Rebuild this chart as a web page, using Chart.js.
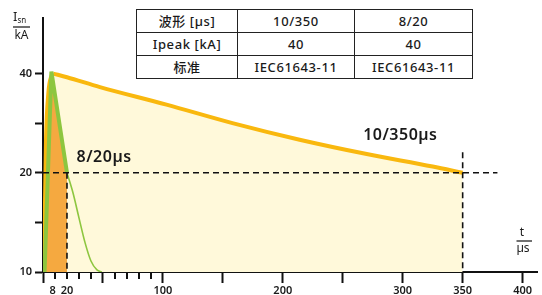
<!DOCTYPE html>
<html>
<head>
<meta charset="utf-8">
<script src="https://cdn.jsdelivr.net/npm/chart.js@4.4.0/dist/chart.umd.min.js"></script>
<style>
    html, body { margin: 0; padding: 0; background: #fff; }
    .wrap { position: relative; width: 542px; height: 295px; }
    canvas { position: absolute; left: 0; top: 0; }
    table.spec {
        position: absolute;
        left: 136px;
        top: 9px;
        width: 336px;
        border-collapse: collapse;
        table-layout: fixed;
        background: #fff;
        font-family: 'Noto Sans', 'Noto Sans CJK SC', sans-serif;
        font-size: 13px;
        font-weight: 500;
        letter-spacing: 0.6px;
        color: #1a1a1a;
    }
    table.spec td {
        border: 1.5px solid #222;
        height: 22px;
        padding: 0;
        text-align: center;
        line-height: 20px;
    }
</style>
</head>
<body>
<div class="wrap">
    <canvas id="chart" width="542" height="295"></canvas>
    <table class="spec">
        <colgroup><col style="width:101px"><col style="width:117px"><col style="width:118px"></colgroup>
        <tr><td>波形 [µs]</td><td>10/350</td><td>8/20</td></tr>
        <tr><td>Ipeak [kA]</td><td>40</td><td>40</td></tr>
        <tr><td>标准</td><td>IEC61643-11</td><td>IEC61643-11</td></tr>
    </table>
</div>
<script>
// 10/350 µs wave (t in µs, I in kA): front and tail
const t10350Front = [0.8, 2.5, 4.5, 7, 8.5];
const i10350Front = [10, 25, 35, 39.3, 40];
const t10350Tail = [8.5, 20, 47.5, 103, 158, 214, 270, 325, 350];
const i10350Tail = [40, 39.0, 36.4, 32.2, 28.3, 25.2, 22.8, 20.9, 20.0];

// 8/20 µs wave, front part (filled) and tail
const t820Front = [1.3, 7, 20];
const i820Front = [10, 40.6, 20];
const t820Tail = [20, 25, 30, 35, 40, 45, 49];
const i820Tail = [20, 17.4, 14.6, 12.3, 10.8, 10.15, 10.0];

// dashed guide lines
const halfLevelT = [0, 379];
const halfLevelI = [20, 20];
const mark20T = [20, 20];
const mark20I = [20, 10];
const mark350T = [350, 350];
const mark350I = [23.1, 10];

// axes
const xTickValues = [0, 8, 10, 20, 30, 40, 50, 60, 70, 80, 90, 100, 150, 200, 250, 300, 350, 400];
const xTickLabels = ['', '8', '', '20', '', '', '', '', '', '', '', '100', '', '200', '', '300', '350', '400'];
const xLongTicks = [0, 50, 100, 150, 200, 250, 300, 350, 400];
const xShortTicks = [10, 20, 30, 40, 60, 70, 80, 90];
const yTickValues = [10, 14.1, 20, 28.3, 40];
const yTickLabels = ['10', '', '20', '', '40'];

const toPoints = (xs, ys) => xs.map((x, i) => ({ x: x, y: ys[i] }));

const tickFont = { family: "'Noto Sans', sans-serif", size: 11, weight: '600' };

const dashed = (xs, ys) => ({
    data: toPoints(xs, ys),
    borderColor: '#111',
    borderWidth: 1.6,
    borderDash: [6, 4],
    pointRadius: 0,
    fill: false,
    order: 0
});

const wave10350 = (xs, ys) => ({
    data: toPoints(xs, ys),
    borderColor: '#F9B80E',
    borderWidth: 4,
    borderJoinStyle: 'round',
    pointRadius: 0,
    cubicInterpolationMode: 'monotone',
    fill: 'start',
    backgroundColor: '#FFF9DA',
    order: 3
});

// short x ticks and text labels
const extras = {
    id: 'extras',
    afterDraw(chart) {
        const { ctx, chartArea } = chart;
        const x = chart.scales.x;
        const y = chart.scales.y;
        ctx.save();
        ctx.strokeStyle = '#111';
        ctx.lineWidth = 2;
        xShortTicks.forEach(v => {
            const px = Math.round(x.getPixelForValue(v));
            ctx.beginPath();
            ctx.moveTo(px, chartArea.bottom);
            ctx.lineTo(px, chartArea.bottom + 7);
            ctx.stroke();
        });

        ctx.fillStyle = '#1a1a1a';
        ctx.textBaseline = 'middle';

        // curve labels
        ctx.font = "600 16px 'Noto Sans', sans-serif";
        ctx.letterSpacing = '0.5px';
        ctx.textAlign = 'left';
        ctx.fillText('8/20µs', x.getPixelForValue(28), y.getPixelForValue(22.3));
        ctx.textAlign = 'center';
        ctx.fillText('10/350µs', x.getPixelForValue(298), y.getPixelForValue(25.9));
        ctx.letterSpacing = '0px';

        // y title: I_sn / kA
        ctx.font = "400 13px 'Noto Sans', sans-serif";
        ctx.textAlign = 'left';
        ctx.fillText('I', 13, 17);
        ctx.font = "400 8px 'Noto Sans', sans-serif";
        ctx.fillText('sn', 17.5, 21);
        ctx.lineWidth = 1.2;
        ctx.beginPath();
        ctx.moveTo(13, 27);
        ctx.lineTo(30, 27);
        ctx.stroke();
        ctx.font = "400 12px 'Noto Sans', sans-serif";
        ctx.textAlign = 'center';
        ctx.fillText('kA', 21.5, 36);

        // x title: t / µs
        ctx.fillText('t', 522, 233);
        ctx.beginPath();
        ctx.moveTo(516.5, 241);
        ctx.lineTo(532, 241);
        ctx.stroke();
        ctx.fillText('µs', 523, 249);
        ctx.restore();
    }
};

new Chart(document.getElementById('chart').getContext('2d'), {
    type: 'line',
    data: {
        datasets: [
            dashed(halfLevelT, halfLevelI),
            dashed(mark20T, mark20I),
            dashed(mark350T, mark350I),
            {
                data: toPoints(t820Tail, i820Tail),
                borderColor: '#8DC63F',
                borderWidth: 1.6,
                pointRadius: 0,
                cubicInterpolationMode: 'monotone',
                fill: false,
                order: 1
            },
            {
                data: toPoints(t820Front, i820Front),
                borderColor: '#8DC63F',
                borderWidth: 4,
                pointRadius: 0,
                tension: 0,
                fill: 'start',
                backgroundColor: '#F5A940',
                order: 2
            },
            wave10350(t10350Front, i10350Front),
            wave10350(t10350Tail, i10350Tail)
        ]
    },
    options: {
        responsive: false,
        animation: false,
        layout: { padding: { top: 18, right: 5, left: 0, bottom: 0 } },
        plugins: {
            legend: { display: false },
            tooltip: { enabled: false }
        },
        scales: {
            x: {
                type: 'linear',
                min: 0,
                max: 412,
                afterBuildTicks: axis => { axis.ticks = xTickValues.map(v => ({ value: v })); },
                afterFit: scale => { scale.height = 23; },
                border: { display: true, color: '#111', width: 2 },
                grid: {
                    drawOnChartArea: false,
                    drawTicks: true,
                    tickLength: 11,
                    tickWidth: 2,
                    tickColor: ctx => (ctx.tick && xLongTicks.includes(ctx.tick.value)) ? '#111' : 'rgba(0,0,0,0)'
                },
                ticks: {
                    autoSkip: false,
                    maxRotation: 0,
                    padding: 1,
                    color: '#1a1a1a',
                    font: tickFont,
                    callback: value => xTickLabels[xTickValues.indexOf(value)] || ''
                }
            },
            y: {
                type: 'logarithmic',
                min: 10,
                max: 59,
                afterBuildTicks: axis => { axis.ticks = yTickValues.map(v => ({ value: v })); },
                afterFit: scale => { scale.width = 43; },
                border: { display: true, color: '#111', width: 2 },
                grid: {
                    drawOnChartArea: false,
                    drawTicks: true,
                    tickLength: 8,
                    tickWidth: 2,
                    tickColor: '#111'
                },
                ticks: {
                    padding: 3,
                    color: '#1a1a1a',
                    font: tickFont,
                    callback: value => yTickLabels[yTickValues.indexOf(value)] || ''
                }
            }
        }
    },
    plugins: [extras]
});
</script>
</body>
</html>
